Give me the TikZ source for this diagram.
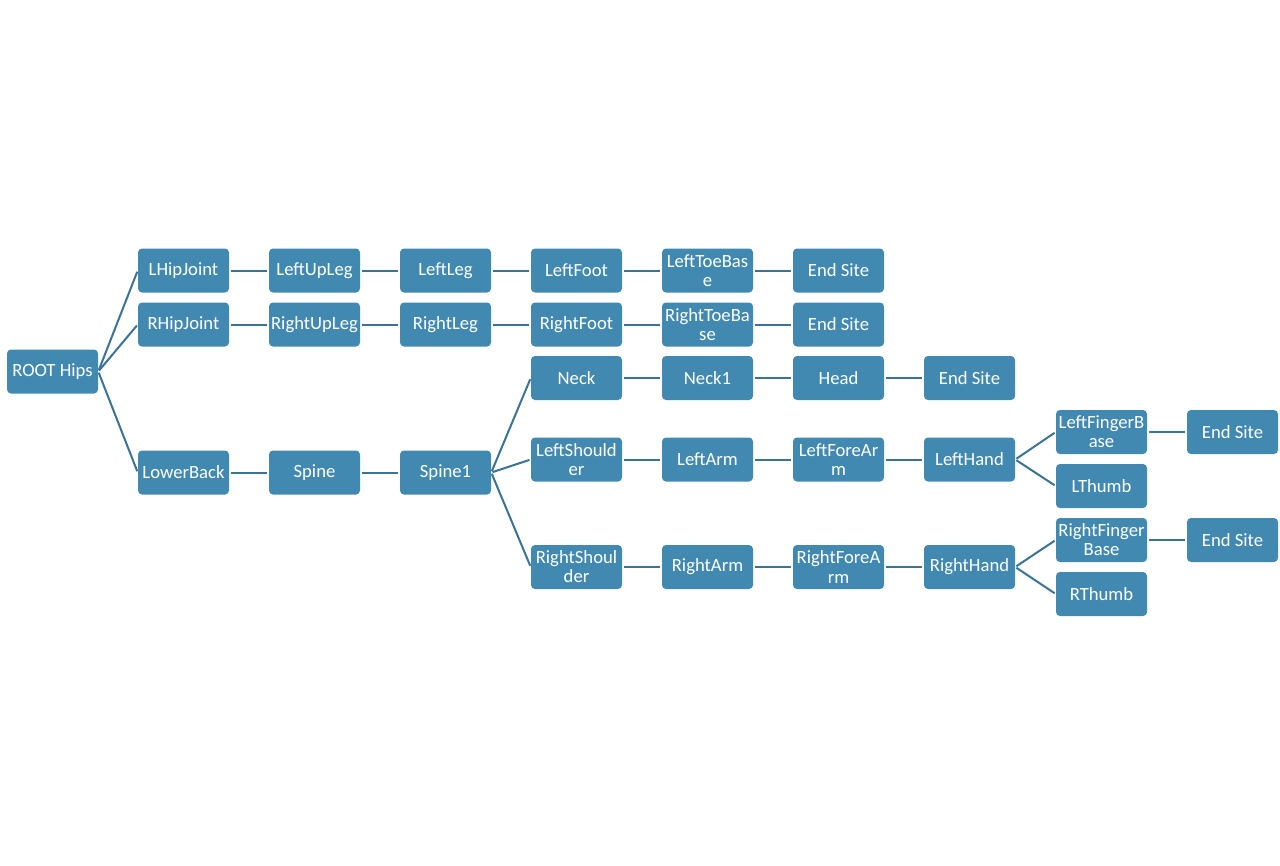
\documentclass[tikz,border=0pt]{standalone}
\usepackage{fontspec}
\setmainfont{Carlito}
\definecolor{bonefill}{RGB}{66,137,178}
\definecolor{boneline}{RGB}{58,114,152}
\tikzset{
  bone/.style={draw=none,fill=bonefill,rounded corners=3pt,text=white,
    minimum width=68.25pt,minimum height=33pt,inner sep=0pt,align=center,
    font=\fontsize{14}{14.3}\selectfont},
  link/.style={draw=boneline,line width=1.5pt,shorten <=1pt,shorten >=1pt}
}
\begin{document}
\begin{tikzpicture}[x=0.75pt,y=-0.75pt]
    \useasboundingbox (0,0) rectangle (1280,865);
    %% root
    \node[bone] (root) at (52.5,371.5) {ROOT Hips};
    %% left leg
    \node[bone] (lhip) at (183.5,270.5) {LHipJoint};
    \node[bone] (lupleg) at (314.5,270.5) {LeftUpLeg};
    \node[bone] (lleg) at (445.5,270.5) {LeftLeg};
    \node[bone] (lfoot) at (576.5,270.5) {LeftFoot};
    \node[bone] (ltoe) at (707.5,270.5) {LeftToeBas\\e};
    \node[bone] (lend) at (838.5,270.5) {End Site};
    %% right leg
    \node[bone] (rhip) at (183.5,324.5) {RHipJoint};
    \node[bone] (rupleg) at (314.5,324.5) {RightUpLeg};
    \node[bone] (rleg) at (445.5,324.5) {RightLeg};
    \node[bone] (rfoot) at (576.5,324.5) {RightFoot};
    \node[bone] (rtoe) at (707.5,324.5) {RightToeBa\\se};
    \node[bone] (rend) at (838.5,324.5) {End Site};
    %% spine
    \node[bone] (lowback) at (183.5,472.5) {LowerBack};
    \node[bone] (spine) at (314.5,472.5) {Spine};
    \node[bone] (spine1) at (445.5,472.5) {Spine1};
    %% head
    \node[bone] (neck) at (576.5,378) {Neck};
    \node[bone] (neck1) at (707.5,378) {Neck1};
    \node[bone] (head) at (838.5,378) {Head};
    \node[bone] (hend) at (969.5,378) {End Site};
    %% left arm
    \node[bone] (lshoul) at (576.5,459.5) {LeftShould\\er};
    \node[bone] (larm) at (707.5,459.5) {LeftArm};
    \node[bone] (lfore) at (838.5,459.5) {LeftForeAr\\m};
    \node[bone] (lhand) at (969.5,459.5) {LeftHand};
    \node[bone] (lfing) at (1101.5,432) {LeftFingerB\\ase};
    \node[bone] (lthumb) at (1101.5,486) {LThumb};
    \node[bone] (lfend) at (1232.5,432) {End Site};
    %% right arm
    \node[bone] (rshoul) at (576.5,567) {RightShoul\\der};
    \node[bone] (rarm) at (707.5,567) {RightArm};
    \node[bone] (rfore) at (838.5,567) {RightForeA\\rm};
    \node[bone] (rhand) at (969.5,567) {RightHand};
    \node[bone] (rfing) at (1101.5,540) {RightFinger\\Base};
    \node[bone] (rthumb) at (1101.5,594) {RThumb};
    \node[bone] (rfend) at (1232.5,540) {End Site};
    %% links
    \foreach \a/\b in {root/lhip,lhip/lupleg,lupleg/lleg,lleg/lfoot,lfoot/ltoe,ltoe/lend,
        root/rhip,rhip/rupleg,rupleg/rleg,rleg/rfoot,rfoot/rtoe,rtoe/rend,
        root/lowback,lowback/spine,spine/spine1,
        spine1/neck,neck/neck1,neck1/head,head/hend,
        spine1/lshoul,lshoul/larm,larm/lfore,lfore/lhand,lhand/lfing,lhand/lthumb,lfing/lfend,
        spine1/rshoul,rshoul/rarm,rarm/rfore,rfore/rhand,rhand/rfing,rhand/rthumb,rfing/rfend}
        \draw[link] (\a.east) -- (\b.west);
\end{tikzpicture}
\end{document}
